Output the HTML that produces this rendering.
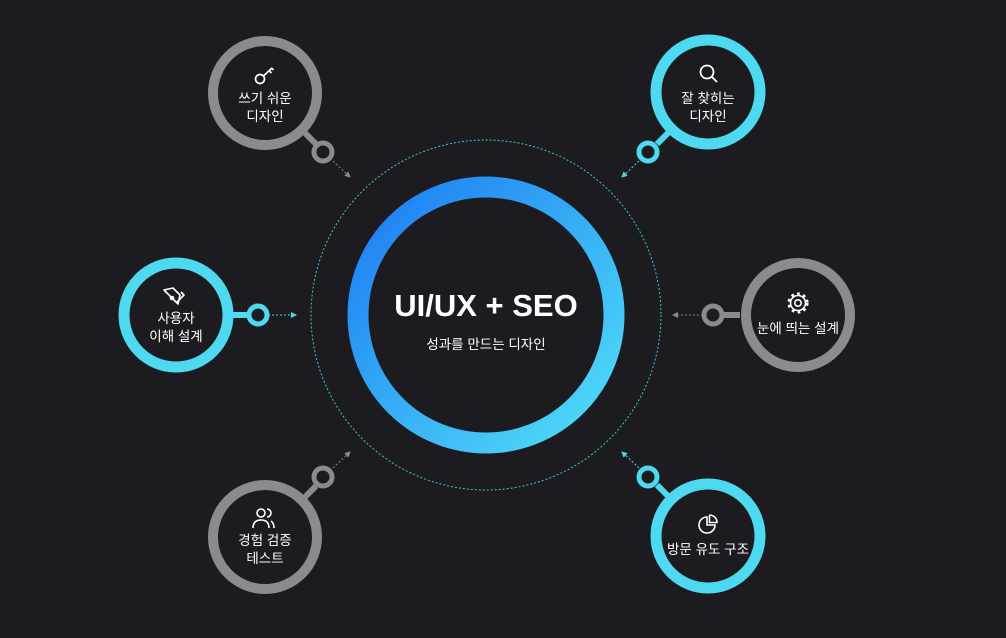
<!DOCTYPE html>
<html><head><meta charset="utf-8"><style>
html,body{margin:0;padding:0;background:#1c1c20;}
svg{display:block}
text{font-family:"Liberation Sans","Noto Sans CJK KR",sans-serif;fill:#fff;text-anchor:middle}
</style></head><body>
<svg width="1006" height="638" viewBox="0 0 1006 638" xmlns="http://www.w3.org/2000/svg">
<defs>
<linearGradient id="g" x1="0" y1="0" x2="1" y2="1">
<stop offset="0" stop-color="#1b7af3"/><stop offset="1" stop-color="#52e0f8"/>
</linearGradient>
<marker id="ac" markerWidth="6" markerHeight="6" refX="5" refY="3" orient="auto" markerUnits="userSpaceOnUse"><path d="M0,0 L6,3 L0,6z" fill="#4dd6ee"/></marker>
<marker id="ag" markerWidth="6" markerHeight="6" refX="5" refY="3" orient="auto" markerUnits="userSpaceOnUse"><path d="M0,0 L6,3 L0,6z" fill="#8b8a8f"/></marker>
</defs>
<rect width="1006" height="638" fill="#1c1c20"/>
<circle cx="486" cy="315" r="175" fill="none" stroke="#3fbfe0" stroke-width="1" stroke-dasharray="2 2"/>
<circle cx="486" cy="315" r="128" fill="none" stroke="url(#g)" stroke-width="21"/>
<text x="486" y="316" font-size="31" font-weight="bold">UI/UX + SEO</text>
<text x="486" y="349" font-size="13.5">성과를 만드는 디자인</text>

<!-- top-left gray -->
<g stroke="#8b8a8f" fill="none">
<circle cx="265" cy="93" r="52" stroke-width="10"/>
<line x1="302" y1="130" x2="316" y2="144" stroke-width="6"/>
<circle cx="323" cy="152" r="9" stroke-width="5"/>
<line x1="333" y1="161" x2="350" y2="177" stroke-width="1" stroke-dasharray="2 2" marker-end="url(#ag)"/>
</g>
<g stroke="#fff" stroke-width="1.7" fill="none"><circle cx="260" cy="79" r="4.5"/><path d="M263.5 76 L272 68 M269 70.5 l2.5 2.5 M271.5 68 l2 2"/></g>
<text x="265" y="103" font-size="13.5">쓰기 쉬운</text>
<text x="265" y="121" font-size="13.5">디자인</text>

<!-- top-right cyan -->
<g stroke="#4dd9f0" fill="none">
<circle cx="708" cy="92" r="52" stroke-width="11"/>
<line x1="671" y1="130" x2="657" y2="144" stroke-width="6"/>
<circle cx="648" cy="152" r="9" stroke-width="5"/>
<line x1="639" y1="161" x2="622" y2="177" stroke-width="1" stroke-dasharray="2 2" stroke="#4dd6ee" marker-end="url(#ac)"/>
</g>
<g stroke="#fff" stroke-width="1.8" fill="none"><circle cx="707" cy="72" r="6.5"/><path d="M712 77 L717 82"/></g>
<text x="708" y="103" font-size="13.5">잘 찾히는</text>
<text x="708" y="121" font-size="13.5">디자인</text>

<!-- left cyan -->
<g stroke="#4dd9f0" fill="none">
<circle cx="176" cy="315" r="52" stroke-width="11"/>
<line x1="233" y1="315" x2="249" y2="315" stroke-width="6"/>
<circle cx="258" cy="315" r="9" stroke-width="5"/>
<line x1="268" y1="315" x2="296" y2="315" stroke-width="1" stroke-dasharray="2 2" stroke="#4dd6ee" marker-end="url(#ac)"/>
</g>
<g stroke="#fff" stroke-width="1.6" fill="none" stroke-linejoin="round"><path d="M164 290 L173 288 L180 295 L178 304 Z M164 290 L171 297 M176 303 L184 295 L181 292"/><circle cx="172" cy="298" r="1.5"/></g>
<text x="176" y="323" font-size="13.5">사용자</text>
<text x="176" y="341" font-size="13.5">이해 설계</text>

<!-- right gray -->
<g stroke="#8b8a8f" fill="none">
<circle cx="798" cy="315" r="52" stroke-width="10"/>
<line x1="740" y1="315" x2="722" y2="315" stroke-width="6"/>
<circle cx="713" cy="315" r="9" stroke-width="5"/>
<line x1="703" y1="315" x2="673" y2="315" stroke-width="1" stroke-dasharray="2 2" marker-end="url(#ag)"/>
</g>
<g stroke="#fff" stroke-width="1.6" fill="none"><circle cx="798" cy="303" r="3.2"/><circle cx="798" cy="303" r="7.5"/><g stroke-width="3.2" stroke-dasharray="2.6 3.3"><circle cx="798" cy="303" r="9"/></g></g>
<text x="798" y="333" font-size="13.5">눈에 띄는 설계</text>

<!-- bottom-left gray -->
<g stroke="#8b8a8f" fill="none">
<circle cx="265" cy="537" r="52" stroke-width="10"/>
<line x1="302" y1="500" x2="316" y2="486" stroke-width="6"/>
<circle cx="323" cy="477" r="9" stroke-width="5"/>
<line x1="333" y1="468" x2="350" y2="452" stroke-width="1" stroke-dasharray="2 2" marker-end="url(#ag)"/>
</g>
<g stroke="#fff" stroke-width="1.6" fill="none"><circle cx="261" cy="513" r="4"/><path d="M253 528 q0 -8 8 -8 q8 0 8 8 M267 509 a4 4 0 0 1 0 8 M271 521 q3 2 3 7"/></g>
<text x="265" y="545" font-size="13.5">경험 검증</text>
<text x="265" y="563" font-size="13.5">테스트</text>

<!-- bottom-right cyan -->
<g stroke="#4dd9f0" fill="none">
<circle cx="708" cy="536" r="52" stroke-width="11"/>
<line x1="671" y1="499" x2="657" y2="485" stroke-width="6"/>
<circle cx="648" cy="477" r="9" stroke-width="5"/>
<line x1="639" y1="468" x2="622" y2="452" stroke-width="1" stroke-dasharray="2 2" stroke="#4dd6ee" marker-end="url(#ac)"/>
</g>
<g stroke="#fff" stroke-width="1.6" fill="none"><path d="M707 517 a8 8 0 1 0 8 8 L707 525 Z M709.5 515 v7.5 h7.5 a7.5 7.5 0 0 0 -7.5 -7.5"/></g>
<text x="708" y="554" font-size="13.5">방문 유도 구조</text>
</svg>
</body></html>
